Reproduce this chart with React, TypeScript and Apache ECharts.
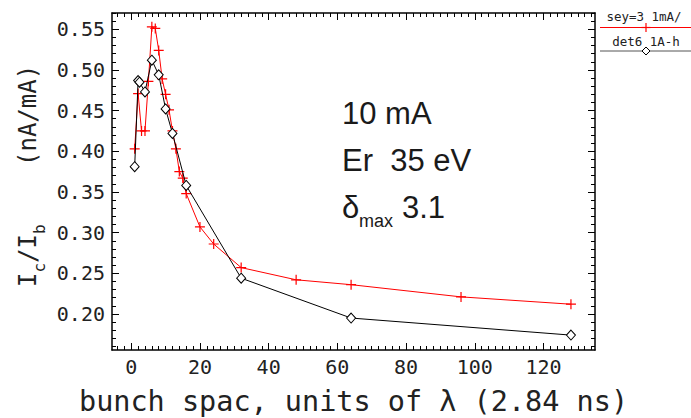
import React, { useEffect, useRef } from "react";
import * as echarts from "echarts";

// ---- data ----
const X_RED = [1, 2, 3, 4, 5, 6, 7, 8, 9, 10, 11, 12, 13, 14, 15, 16, 20, 24, 32, 48, 64, 96, 128];
const Y_RED = [0.403, 0.471, 0.425, 0.425, 0.486, 0.553, 0.551, 0.524, 0.489, 0.47, 0.451, 0.425, 0.403, 0.375, 0.367, 0.348, 0.307, 0.286, 0.257, 0.242, 0.236, 0.221, 0.212];

const X_BLK = [1, 2, 2.4, 4, 6, 8, 10, 12, 16, 32, 64, 128];
const Y_BLK = [0.381, 0.487, 0.485, 0.473, 0.512, 0.494, 0.452, 0.422, 0.358, 0.244, 0.195, 0.174];

const X_TICKS = [0, 20, 40, 60, 80, 100, 120];
const Y_TICKS = [0.2, 0.25, 0.3, 0.35, 0.4, 0.45, 0.5, 0.55];

const X_MIN = -5.6;
const X_MAX = 135;
const Y_MIN = 0.1557;
const Y_MAX = 0.57;

const LEGEND_RED = "sey=3 1mA/";
const LEGEND_BLK = "det6 1A-h";
const X_TITLE = "bunch spac, units of λ (2.84 ns)";

function range(a: number, b: number, step: number): number[] {
  const out: number[] = [];
  for (let v = a; v <= b + step / 1000; v += step) out.push(Math.round(v * 1000) / 1000);
  return out;
}
const X_MINOR = range(-4, 134, 2);
const Y_MINOR = range(0.16, 0.57, 0.01);

const PLUS = "path://M4.4,0H5.6V4.4H10V5.6H5.6V10H4.4V5.6H0V4.4H4.4Z";
const MONO = "DejaVu Sans Mono";
const SANS = "Liberation Sans";

export default function App() {
  const ref = useRef<HTMLDivElement>(null);
  useEffect(() => {
    if (!ref.current) return;
    const chart = echarts.init(ref.current, undefined, { renderer: "svg" });
    const axisLine = { show: true, onZero: false, lineStyle: { color: "#000", width: 1.5 } };
    const noLine = { show: false, onZero: false };
    const tickStyle = { color: "#000", width: 1 };
    const hidden = { show: false };
    const xBase = { type: "value", min: X_MIN, max: X_MAX, gridIndex: 0, splitLine: hidden };
    const yBase = { type: "value", min: Y_MIN, max: Y_MAX, gridIndex: 0, splitLine: hidden };

    const yTitle = [
      { t: "I", s: 24, x: 28, y: 287 },
      { t: "c", s: 16, x: 39.5, y: 272.5 },
      { t: "/", s: 24, x: 28, y: 263 },
      { t: "I", s: 24, x: 28, y: 248.5 },
      { t: "b", s: 16, x: 39.5, y: 234 },
      { t: "(nA/mA)", s: 24, x: 28, y: 166 },
    ].map((p) => ({
      type: "text",
      x: p.x,
      y: p.y,
      rotation: Math.PI / 2,
      style: {
        text: p.t,
        font: `${p.s}px "${MONO}"`,
        fill: "#222",
        align: "left",
        verticalAlign: "middle",
      },
    }));

    const annot = (t: string, x: number, y: number, size: number) => ({
      type: "text",
      x,
      y,
      style: { text: t, font: `${size}px "${SANS}"`, fill: "#1a1a1a", align: "left", verticalAlign: "middle" },
    });

    chart.setOption({
      animation: false,
      backgroundColor: "#fff",
      grid: { left: 112, right: 96, top: 13, bottom: 68, containLabel: false, outerBoundsMode: "none" },
      xAxis: [
        {
          ...xBase,
          position: "bottom",
          axisLine,
          axisTick: { show: true, inside: true, length: 7, customValues: X_TICKS, lineStyle: tickStyle },
          axisLabel: {
            show: true,
            customValues: X_TICKS,
            margin: 7,
            color: "#222",
            fontFamily: MONO,
            fontSize: 20,
            formatter: (v: number) => String(Math.round(v)),
          },
          name: X_TITLE,
          nameLocation: "middle",
          nameGap: 37,
          nameTextStyle: { fontFamily: MONO, fontSize: 28.5, color: "#222" },
        },
        {
          ...xBase,
          position: "bottom",
          axisLine: noLine,
          axisTick: { show: true, inside: true, length: 4, customValues: X_MINOR, lineStyle: tickStyle },
          axisLabel: hidden,
        },
        {
          ...xBase,
          position: "top",
          axisLine,
          axisTick: { show: true, inside: true, length: 7, customValues: X_TICKS, lineStyle: tickStyle },
          axisLabel: hidden,
        },
        {
          ...xBase,
          position: "top",
          axisLine: noLine,
          axisTick: { show: true, inside: true, length: 4, customValues: X_MINOR, lineStyle: tickStyle },
          axisLabel: hidden,
        },
      ],
      yAxis: [
        {
          ...yBase,
          position: "left",
          axisLine,
          axisTick: { show: true, inside: true, length: 7, customValues: Y_TICKS, lineStyle: tickStyle },
          axisLabel: {
            show: true,
            customValues: Y_TICKS,
            margin: 7,
            color: "#222",
            fontFamily: MONO,
            fontSize: 20,
            formatter: (v: number) => v.toFixed(2),
          },
        },
        {
          ...yBase,
          position: "left",
          axisLine: noLine,
          axisTick: { show: true, inside: true, length: 4, customValues: Y_MINOR, lineStyle: tickStyle },
          axisLabel: hidden,
        },
        {
          ...yBase,
          position: "right",
          axisLine,
          axisTick: { show: true, inside: true, length: 7, customValues: Y_TICKS, lineStyle: tickStyle },
          axisLabel: hidden,
        },
        {
          ...yBase,
          position: "right",
          axisLine: noLine,
          axisTick: { show: true, inside: true, length: 4, customValues: Y_MINOR, lineStyle: tickStyle },
          axisLabel: hidden,
        },
      ],
      series: [
        {
          name: LEGEND_RED,
          type: "line",
          xAxisIndex: 0,
          yAxisIndex: 0,
          data: X_RED.map((x, i) => [x, Y_RED[i]]),
          symbol: PLUS,
          symbolSize: 10,
          itemStyle: { color: "#ff0000" },
          lineStyle: { color: "#ff0000", width: 1 },
          z: 2,
        },
        {
          name: LEGEND_BLK,
          type: "line",
          xAxisIndex: 0,
          yAxisIndex: 0,
          data: X_BLK.map((x, i) => [x, Y_BLK[i]]),
          symbol: "diamond",
          symbolSize: [9, 10],
          showAllSymbol: true,
          itemStyle: { color: "#fff", borderColor: "#000", borderWidth: 1 },
          lineStyle: { color: "#000", width: 1 },
          z: 3,
        },
      ],
      graphic: [
        ...yTitle,
        annot("10 mA", 342, 113, 31),
        annot("Er  35 eV", 342, 160, 31),
        annot("δ", 342, 207.5, 31),
        annot("max", 359, 220.5, 18),
        annot("3.1", 402, 207.5, 31),
        // legend
        {
          type: "text",
          x: 644,
          y: 16,
          style: { text: LEGEND_RED, font: `12.5px "${MONO}"`, fill: "#222", align: "center", verticalAlign: "middle" },
        },
        { type: "line", shape: { x1: 600, y1: 27.5, x2: 691, y2: 27.5 }, style: { stroke: "#ff0000", lineWidth: 1 } },
        { type: "line", shape: { x1: 646, y1: 23, x2: 646, y2: 32 }, style: { stroke: "#ff0000", lineWidth: 1.2 } },
        { type: "line", shape: { x1: 641.5, y1: 27.5, x2: 650.5, y2: 27.5 }, style: { stroke: "#ff0000", lineWidth: 1.2 } },
        {
          type: "text",
          x: 646,
          y: 41,
          style: { text: LEGEND_BLK, font: `12.5px "${MONO}"`, fill: "#222", align: "center", verticalAlign: "middle" },
        },
        { type: "line", shape: { x1: 600, y1: 51, x2: 691, y2: 51 }, style: { stroke: "#555", lineWidth: 1 } },
        {
          type: "polygon",
          shape: { points: [[646, 47], [650, 51], [646, 55], [642, 51]] },
          style: { fill: "#fff", stroke: "#000", lineWidth: 1 },
        },
      ],
    });
    return () => chart.dispose();
  }, []);
  return (
    <div
      ref={ref}
      style={{ position: "fixed", left: 0, top: 0, width: 691, height: 418, background: "#fff" }}
    />
  );
}
